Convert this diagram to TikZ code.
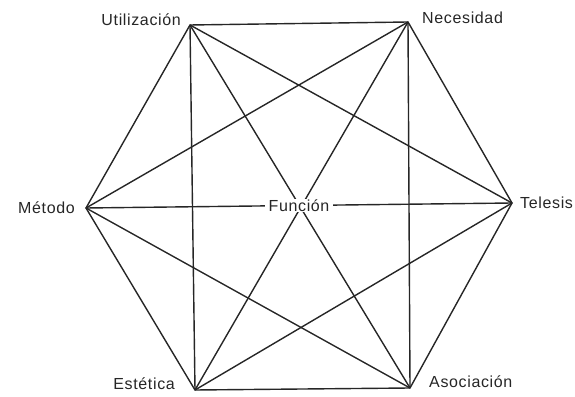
\documentclass[tikz,border=0pt]{standalone}
\usepackage{fontspec}
\setmainfont{Liberation Sans}[LetterSpace=4]
\begin{document}
\begin{tikzpicture}[x=1pt,y=1pt,
  edge/.style={line width=1.4pt, black!85},
  lab/.style={font=\fontsize{16}{19}\selectfont, inner sep=1pt, text=black!85}]
\useasboundingbox (0,0) rectangle (575,396);
\coordinate (U) at (190,371);
\coordinate (N) at (408,374);
\coordinate (T) at (512,193);
\coordinate (A) at (410,8);
\coordinate (E) at (195,6);
\coordinate (M) at (86,188);
% hexagon
\draw[edge] (U) -- (N) -- (T) -- (A) -- (E) -- (M) -- cycle;
% diagonals
\draw[edge] (U) -- (T);
\draw[edge] (U) -- (A);
\draw[edge] (U) -- (E);
\draw[edge] (N) -- (A);
\draw[edge] (N) -- (E);
\draw[edge] (N) -- (M);
\draw[edge] (T) -- (E);
\draw[edge] (A) -- (M);
\draw[edge] (M) -- (T) node[pos=0.5, fill=white, lab, inner xsep=4pt] (F) {Función};
% labels
\node[lab, anchor=east] (Ul) at (182,376) {Utilización};
\node[lab, anchor=west] (Nl) at (421,378) {Necesidad};
\node[lab, anchor=east] (Ml) at (76,188) {Método};
\node[lab, anchor=west] (Tl) at (519,193) {Telesis};
\node[lab, anchor=east] (El) at (176,12) {Estética};
\node[lab, anchor=west] (Al) at (428,14) {Asociación};
\end{tikzpicture}
\end{document}
